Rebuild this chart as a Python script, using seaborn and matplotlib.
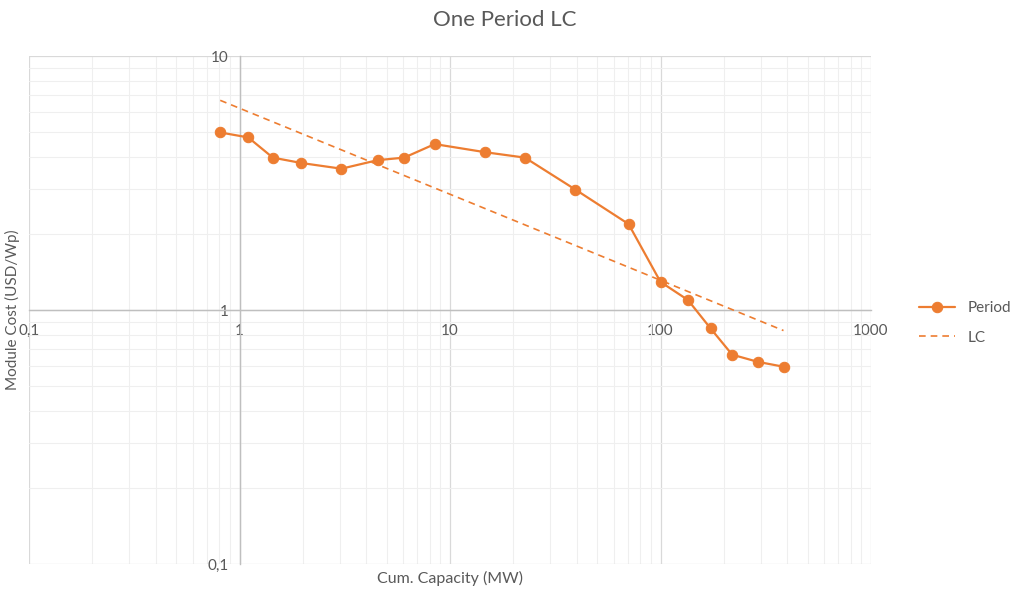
import matplotlib
matplotlib.use("Agg")
import matplotlib.pyplot as plt
import matplotlib.ticker as mticker
import seaborn as sns
import pandas as pd

# Data
period_x = [0.81, 1.1, 1.44, 1.97, 3.05, 4.53, 6.06, 8.46, 14.7, 22.7, 39.4, 70.5,
            100, 135, 173, 219, 290, 384]
period_y = [5.0, 4.78, 3.98, 3.79, 3.60, 3.89, 3.98, 4.50, 4.18, 3.98, 2.98, 2.18,
            1.29, 1.095, 0.846, 0.667, 0.625, 0.598]
lc_x = [0.81, 384]
lc_y = [6.69, 0.83]
x_ticks = [0.1, 1, 10, 100, 1000]
x_tick_labels = ["0,1", "1", "10", "100", "1000"]
y_ticks = [0.1, 1, 10]
y_tick_labels = ["0,1", "1", "10"]

ORANGE = "#ED7D31"
TEXT = "#595959"

sns.set_theme(style="white")
plt.rcParams["font.family"] = ["Lato", "DejaVu Sans"]

fig = plt.figure(figsize=(10.1, 5.89), dpi=100)
ax = fig.add_axes([29 / 1010, 1 - 564 / 589, (871 - 29) / 1010, (564 - 56) / 589])

df_p = pd.DataFrame({"x": period_x, "y": period_y})
df_lc = pd.DataFrame({"x": lc_x, "y": lc_y})

sns.lineplot(data=df_p, x="x", y="y", ax=ax, color=ORANGE, linewidth=1.6,
             marker="o", markersize=7.5, markeredgecolor=ORANGE, label="Period",
             zorder=4)
sns.lineplot(data=df_lc, x="x", y="y", ax=ax, color=ORANGE, linewidth=1.2,
             linestyle=(0, (4, 3)), label="LC", zorder=3)

ax.set_xscale("log")
ax.set_yscale("log")
ax.set_xlim(0.1, 1000)
ax.set_ylim(0.1, 10)

ax.xaxis.set_major_locator(mticker.FixedLocator(x_ticks))
ax.xaxis.set_major_formatter(mticker.FixedFormatter(x_tick_labels))
ax.yaxis.set_major_locator(mticker.FixedLocator(y_ticks))
ax.yaxis.set_major_formatter(mticker.FixedFormatter(y_tick_labels))
ax.xaxis.set_minor_locator(mticker.LogLocator(base=10, subs=range(2, 10)))
ax.yaxis.set_minor_locator(mticker.LogLocator(base=10, subs=range(2, 10)))
ax.xaxis.set_minor_formatter(mticker.NullFormatter())
ax.yaxis.set_minor_formatter(mticker.NullFormatter())

ax.grid(True, which="major", color="#D9D9D9", linewidth=0.9)
ax.grid(True, which="minor", color="#EFEFEF", linewidth=0.8)
ax.set_axisbelow(True)

for s in ["top", "right"]:
    ax.spines[s].set_visible(False)
ax.spines["left"].set_position(("data", 1))
ax.spines["bottom"].set_position(("data", 1))
ax.spines["left"].set_color("#BFBFBF")
ax.spines["bottom"].set_color("#BFBFBF")
ax.spines["left"].set_linewidth(1.0)
ax.spines["bottom"].set_linewidth(1.0)

ax.tick_params(axis="both", which="both", length=0, labelsize=11, colors=TEXT)
ax.tick_params(axis="x", pad=10)
ax.tick_params(axis="y", pad=8)

ax.set_xlabel("")
ax.set_ylabel("")
fig.text(450 / 1010, 1 - 578 / 589, "Cum. Capacity (MW)", ha="center", va="center",
         fontsize=11.5, color=TEXT)
fig.text(12 / 1010, 1 - 310 / 589, "Module Cost (USD/Wp)", ha="center", va="center",
         rotation=90, fontsize=11, color=TEXT)
fig.text(505 / 1010, 1 - 20 / 589, "One Period LC", ha="center", va="center",
         fontsize=16, color=TEXT)

leg = ax.legend(loc="center left", bbox_to_anchor=(905 / 1010, 1 - 323 / 589),
                bbox_transform=fig.transFigure, frameon=False, fontsize=11,
                labelcolor=TEXT, handlelength=2.4, labelspacing=1.0)

fig.savefig("out.png", dpi=100)
